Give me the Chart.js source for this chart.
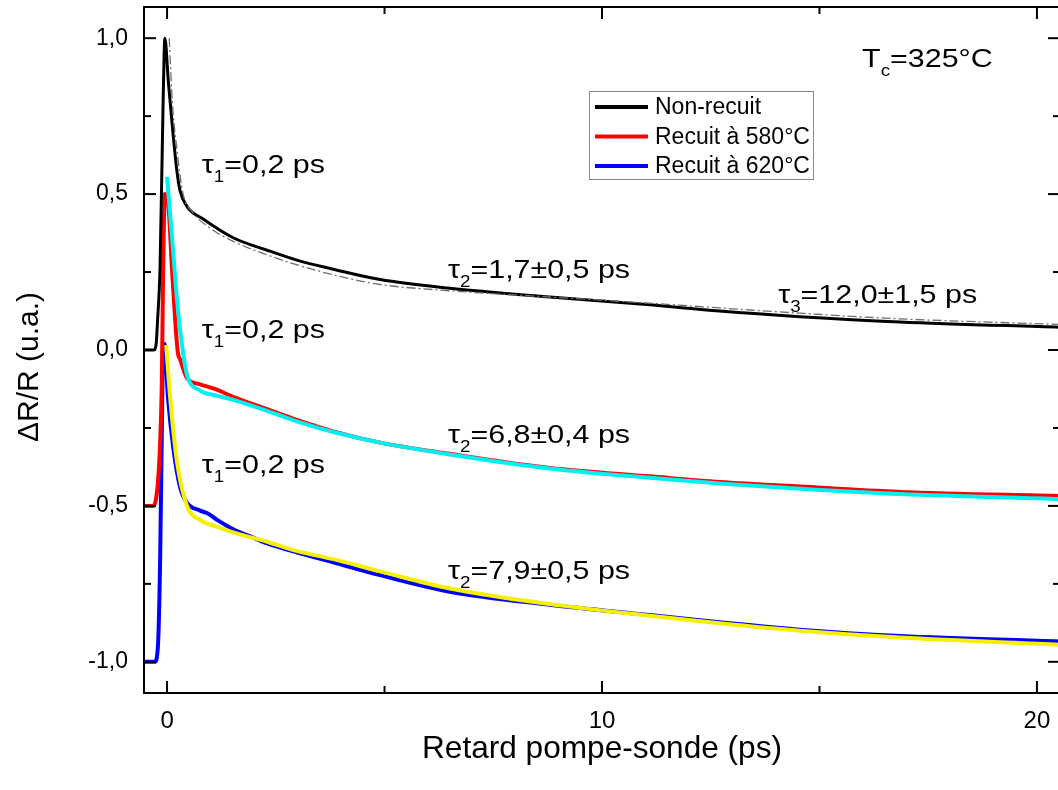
<!DOCTYPE html>
<html>
<head>
<meta charset="utf-8">
<script src="https://cdn.jsdelivr.net/npm/chart.js@4/dist/chart.umd.min.js"></script>
<style>
  html, body { margin: 0; padding: 0; background: #fff; overflow: hidden; }
  #wrap { position: relative; width: 1064px; height: 790px; }
</style>
</head>
<body>
<div id="wrap"><canvas id="c"></canvas></div>
<script>
const FONT = '"Liberation Sans", Arial, Helvetica, sans-serif';

// Axis ticks
const xTicks = [0, 10, 20];
const xMinorTicks = [5, 15];
const yTicks = [-1, -0.5, 0, 0.5, 1];
const yMinorTicks = [-0.75, -0.25, 0.25, 0.75];

// Non-recuit: measured signal and its fit
const nonRecuitX = [-0.53, -0.30, -0.25, -0.22, -0.16, -0.09, -0.05, 0.03, 0.14, 0.23, 0.30, 0.46, 0.83, 1.52, 2.3, 3.06, 3.8, 4.9, 6.5, 8.8, 11.1, 12.7, 14.55, 16.85, 20.53];
const nonRecuitY = [0, 0, 0.02, 0.09, 0.27, 0.80, 1.00, 0.86, 0.69, 0.57, 0.51, 0.46, 0.42, 0.36, 0.32, 0.285, 0.26, 0.226, 0.198, 0.17, 0.145, 0.125, 0.107, 0.09, 0.073];
const fitNonRecuitX = [0.05, 0.12, 0.23, 0.37, 0.6, 1.0, 1.5, 2.3, 3.06, 4.0, 4.9, 6.5, 8.8, 11.1, 12.7, 14.55, 16.85, 20.53];
const fitNonRecuitY = [1.0, 0.80, 0.64, 0.50, 0.44, 0.39, 0.35, 0.305, 0.27, 0.235, 0.21, 0.19, 0.17, 0.15, 0.135, 0.118, 0.1, 0.082];

// Recuit à 580°C: measured signal and its fit
const recuit580X = [-0.53, -0.32, -0.22, -0.16, -0.12, -0.09, -0.05, 0.02, 0.11, 0.18, 0.25, 0.30, 0.46, 0.76, 1.1, 1.52, 2.3, 3.0, 3.8, 4.9, 6.5, 8.8, 11.1, 12.7, 14.55, 16.85, 20.53];
const recuit580Y = [-0.5, -0.5, -0.44, -0.30, -0.10, 0.25, 0.50, 0.48, 0.27, 0.11, -0.01, -0.03, -0.09, -0.11, -0.125, -0.15, -0.19, -0.225, -0.26, -0.297, -0.333, -0.378, -0.405, -0.423, -0.438, -0.455, -0.468];
const fit580X = [0.0, 0.11, 0.23, 0.37, 0.46, 0.76, 1.1, 1.52, 2.3, 3.0, 3.8, 4.9, 6.5, 8.8, 11.1, 12.7, 14.55, 16.85, 20.53];
const fit580Y = [0.555, 0.37, 0.16, -0.01, -0.08, -0.13, -0.145, -0.16, -0.195, -0.23, -0.262, -0.297, -0.335, -0.38, -0.41, -0.428, -0.445, -0.462, -0.478];

// Recuit à 620°C: measured signal and its fit
const recuit620X = [-0.53, -0.28, -0.21, -0.16, -0.12, -0.09, -0.06, 0.02, 0.14, 0.30, 0.46, 0.76, 0.95, 1.15, 1.52, 1.9, 2.3, 3.0, 3.8, 4.9, 6.5, 8.8, 11.1, 12.7, 14.55, 16.85, 20.53];
const recuit620Y = [-1.0, -1.0, -0.95, -0.68, -0.26, 0.01, 0.02, -0.15, -0.31, -0.44, -0.49, -0.515, -0.525, -0.545, -0.575, -0.597, -0.62, -0.65, -0.68, -0.722, -0.775, -0.817, -0.85, -0.873, -0.897, -0.917, -0.935];
const fit620X = [-0.02, 0.07, 0.23, 0.46, 0.76, 1.1, 1.52, 2.3, 3.0, 3.8, 4.9, 6.5, 8.8, 11.1, 12.7, 14.55, 16.85, 20.53];
const fit620Y = [0.016, -0.15, -0.36, -0.50, -0.545, -0.565, -0.585, -0.615, -0.645, -0.67, -0.71, -0.765, -0.815, -0.852, -0.876, -0.9, -0.922, -0.945];

// Time-constant labels (main symbol, subscript, rest) and their anchor in data units
const tauLabels = [
  ['τ', '1', '=0,2 ps'],
  ['τ', '1', '=0,2 ps'],
  ['τ', '1', '=0,2 ps'],
  ['τ', '2', '=1,7±0,5 ps'],
  ['τ', '2', '=6,8±0,4 ps'],
  ['τ', '2', '=7,9±0,5 ps'],
  ['τ', '3', '=12,0±1,5 ps'],
  ['T', 'c', '=325°C']
];
const tauLabelX = [0.80, 0.80, 0.80, 6.46, 6.46, 6.46, 14.05, 15.98];
const tauLabelY = [0.567, 0.038, -0.394, 0.231, -0.298, -0.734, 0.151, 0.907];

const pts = (xs, ys) => xs.map((v, i) => ({ x: v, y: ys[i] }));

const datasets = [
  { label: 'fit Non-recuit', data: pts(fitNonRecuitX, fitNonRecuitY), borderColor: '#6e6e6e', borderWidth: 1.3, borderDash: [9, 3, 2, 3], order: 0, fit: true },
  { label: 'fit 580', data: pts(fit580X, fit580Y), borderColor: '#00f0f0', borderWidth: 4, order: 0, fit: true },
  { label: 'fit 620', data: pts(fit620X, fit620Y), borderColor: '#f5f000', borderWidth: 4, order: 0, fit: true },
  { label: 'Non-recuit', data: pts(nonRecuitX, nonRecuitY), borderColor: '#000000', borderWidth: 3, order: 1 },
  { label: 'Recuit à 580°C', data: pts(recuit580X, recuit580Y), borderColor: '#ff0000', borderWidth: 4, order: 1 },
  { label: 'Recuit à 620°C', data: pts(recuit620X, recuit620Y), borderColor: '#0000ff', borderWidth: 4, order: 1 }
];
datasets.forEach(d => { d.pointRadius = 0; d.fill = false; d.cubicInterpolationMode = 'monotone'; });

// Box frame with inward major/minor ticks on all four sides
const framePlugin = {
  id: 'frame',
  afterDraw(chart) {
    const { ctx, chartArea: a, scales: { x, y } } = chart;
    ctx.save();
    ctx.strokeStyle = '#000';
    ctx.lineWidth = 2;
    ctx.strokeRect(a.left, a.top, a.right - a.left, a.bottom - a.top);
    const seg = (x1, y1, x2, y2) => { ctx.beginPath(); ctx.moveTo(x1, y1); ctx.lineTo(x2, y2); ctx.stroke(); };
    const xt = (v, len) => { const p = x.getPixelForValue(v); seg(p, a.bottom, p, a.bottom - len); seg(p, a.top, p, a.top + len); };
    const yt = (v, len) => { const p = y.getPixelForValue(v); seg(a.left, p, a.left + len, p); seg(a.right, p, a.right - len, p); };
    xTicks.forEach(v => xt(v, 12));
    xMinorTicks.forEach(v => xt(v, 7));
    yTicks.forEach(v => yt(v, 12));
    yMinorTicks.forEach(v => yt(v, 7));
    ctx.restore();
  }
};

// Legend box with the three measured series
const legendPlugin = {
  id: 'boxLegend',
  afterDraw(chart) {
    const { ctx } = chart;
    const items = chart.data.datasets.filter(d => !d.fit);
    const left = 589, top = 91, w = 224, h = 88, rowH = 29.5;
    ctx.save();
    ctx.fillStyle = '#fff';
    ctx.fillRect(left, top, w, h);
    ctx.strokeStyle = '#8a8a8a';
    ctx.lineWidth = 1;
    ctx.strokeRect(left + 0.5, top + 0.5, w, h);
    ctx.font = '23px ' + FONT;
    ctx.textBaseline = 'middle';
    ctx.fillStyle = '#000';
    items.forEach((d, i) => {
      const cy = top + 16 + i * rowH;
      ctx.strokeStyle = d.borderColor;
      ctx.lineWidth = 4;
      ctx.beginPath(); ctx.moveTo(left + 6, cy); ctx.lineTo(left + 59, cy); ctx.stroke();
      ctx.fillText(d.label, left + 66, cy + 1);
    });
    ctx.restore();
  }
};

// Time-constant annotations with subscripts (typeset slightly wide)
const labelPlugin = {
  id: 'tauLabels',
  afterDraw(chart) {
    const { ctx, scales: { x, y } } = chart;
    const stretch = 1.17;
    ctx.save();
    ctx.fillStyle = '#000';
    ctx.textBaseline = 'alphabetic';
    tauLabels.forEach((parts, i) => {
      const px0 = x.getPixelForValue(tauLabelX[i]);
      const py = y.getPixelForValue(tauLabelY[i]);
      ctx.save();
      ctx.translate(px0, py);
      ctx.scale(stretch, 1);
      let px = 0;
      ctx.font = '26px ' + FONT;
      ctx.fillText(parts[0], px, 0);
      px += ctx.measureText(parts[0]).width;
      ctx.font = '16px ' + FONT;
      ctx.fillText(parts[1], px, 9);
      px += ctx.measureText(parts[1]).width;
      ctx.font = '26px ' + FONT;
      ctx.fillText(parts[2], px, 0);
      ctx.restore();
    });
    // vertical axis title
    ctx.translate(30, 367);
    ctx.rotate(-Math.PI / 2);
    ctx.textAlign = 'center';
    ctx.textBaseline = 'middle';
    ctx.font = '30px ' + FONT;
    ctx.fillText('ΔR/R (u.a.)', 0, 0);
    ctx.restore();
  }
};

new Chart(document.getElementById('c'), {
  type: 'line',
  data: { datasets },
  options: {
    responsive: true,
    maintainAspectRatio: false,
    animation: false,
    devicePixelRatio: 1,
    layout: { padding: { left: 0, top: 7, right: 4, bottom: 0 } },
    plugins: { legend: { display: false }, tooltip: { enabled: false } },
    scales: {
      x: {
        type: 'linear',
        min: -0.53,
        max: 20.53,
        afterBuildTicks: s => { s.ticks = xTicks.map(v => ({ value: v })); },
        afterFit: s => { s.height = 97; s.paddingLeft = 0; s.paddingRight = 0; },
        grid: { display: false, drawTicks: false },
        border: { display: false },
        ticks: { color: '#000', font: { family: FONT, size: 24 }, padding: 14, maxRotation: 0, callback: v => String(v) },
        title: { display: true, text: 'Retard pompe-sonde (ps)', color: '#000', font: { family: FONT, size: 31.6 }, padding: { top: 0, bottom: 22 } }
      },
      y: {
        type: 'linear',
        min: -1.1,
        max: 1.1,
        afterBuildTicks: s => { s.ticks = yTicks.map(v => ({ value: v })); },
        afterFit: s => { s.width = 144; s.paddingTop = 0; s.paddingBottom = 0; },
        grid: { display: false, drawTicks: false },
        border: { display: false },
        ticks: { color: '#000', font: { family: FONT, size: 23 }, padding: 16, callback: v => v.toFixed(1).replace('.', ',') }
      }
    }
  },
  plugins: [framePlugin, legendPlugin, labelPlugin]
});
</script>
</body>
</html>
